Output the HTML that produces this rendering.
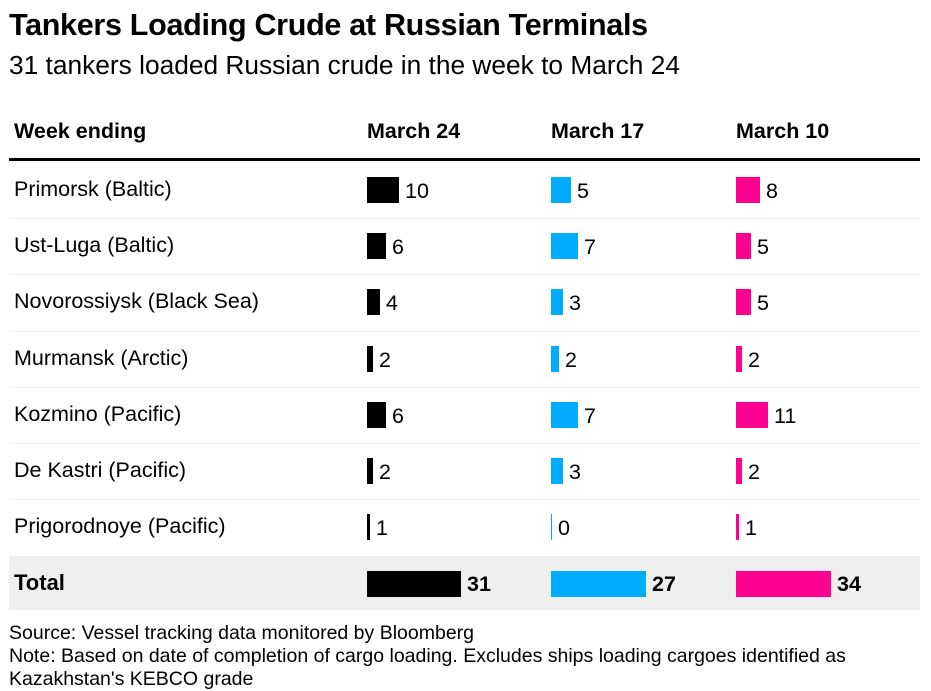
<!DOCTYPE html>
<html><head><meta charset="utf-8"><style>
body{margin:0;width:931px;height:676px;overflow:hidden;background:#fff;font-family:"Liberation Sans",Arial,sans-serif;color:#000;position:relative}
.a{position:absolute;white-space:nowrap}
.t{font-size:21.5px;line-height:22px}
.b{position:absolute;height:26px}
</style></head><body>
<div class="a" style="left:9px;top:8px;font-size:30.5px;font-weight:bold;letter-spacing:-0.3px">Tankers Loading Crude at Russian Terminals</div>
<div class="a" style="left:9px;top:50px;font-size:26.3px">31 tankers loaded Russian crude in the week to March 24</div>
<div class="a" style="left:14px;top:119px;font-size:21.5px;font-weight:bold">Week ending</div>
<div class="a" style="left:367px;top:119px;font-size:21.5px;font-weight:bold">March 24</div>
<div class="a" style="left:551px;top:119px;font-size:21.5px;font-weight:bold">March 17</div>
<div class="a" style="left:736px;top:119px;font-size:21.5px;font-weight:bold">March 10</div>
<div class="a" style="left:9px;top:158px;width:911px;height:3px;background:#000"></div>
<div class="a" style="left:9px;top:556px;width:911px;height:54px;background:#efefef"></div>
<div id="rows"></div>
<div class="a" style="left:14px;top:570px;font-size:22px;font-weight:bold">Total</div>
<div class="b" style="left:367px;top:571px;width:94px;background:#000"></div><div class="a" style="left:467px;top:572px;font-size:21.5px;font-weight:bold">31</div>
<div class="b" style="left:551px;top:571px;width:95px;background:#00acff"></div><div class="a" style="left:652px;top:572px;font-size:21.5px;font-weight:bold">27</div>
<div class="b" style="left:736px;top:571px;width:95px;background:#ff0090"></div><div class="a" style="left:837px;top:572px;font-size:21.5px;font-weight:bold">34</div>
<div class="a" style="left:9px;top:622px;font-size:19.5px">Source: Vessel tracking data monitored by Bloomberg</div>
<div class="a" style="left:9px;top:645px;font-size:19.5px">Note: Based on date of completion of cargo loading. Excludes ships loading cargoes identified as</div>
<div class="a" style="left:9px;top:668px;font-size:19.5px">Kazakhstan's KEBCO grade</div>
<script>
var d=[["Primorsk (Baltic)",10,5,8],["Ust-Luga (Baltic)",6,7,5],["Novorossiysk (Black Sea)",4,3,5],["Murmansk (Arctic)",2,2,2],["Kozmino (Pacific)",6,7,11],["De Kastri (Pacific)",2,3,2],["Prigorodnoye (Pacific)",1,0,1]];
var cols=[[367,3.2,"#000"],[551,3.9,"#00acff"],[736,2.95,"#ff0090"]];
var h="";
d.forEach(function(r,i){var y=177+i*56.2;
h+='<div class="a t" style="left:14px;top:'+(y+1)+'px">'+r[0]+'</div>';
if(i>0)h+='<div class="a" style="left:9px;top:'+(y-15)+'px;width:911px;height:1px;background:#f3f3f3"></div>';
cols.forEach(function(c,j){var w=Math.max(1,Math.round(r[j+1]*c[1]));
h+='<div class="b" style="left:'+c[0]+'px;top:'+y+'px;width:'+w+'px;background:'+c[2]+'"></div>';
h+='<div class="a t" style="left:'+(c[0]+w+6)+'px;top:'+(y+3)+'px">'+r[j+1]+'</div>';});});
document.getElementById("rows").innerHTML=h;
</script>
</body></html>
